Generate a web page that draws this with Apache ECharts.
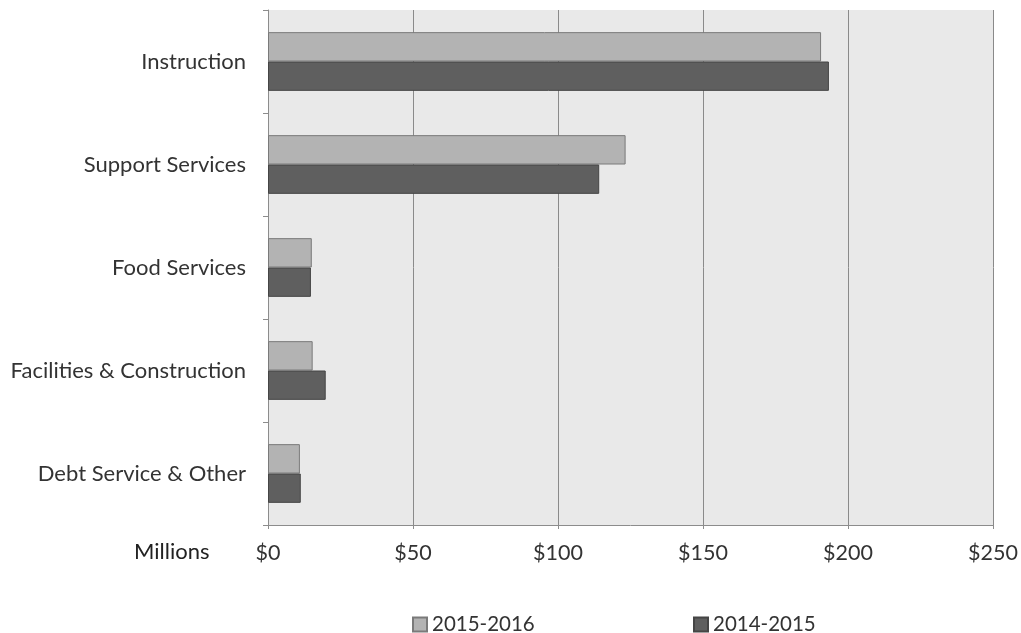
<!DOCTYPE html>
<html>
<head>
<meta charset="utf-8">
<script src="https://cdn.jsdelivr.net/npm/echarts@6/dist/echarts.min.js"></script>
<style>
  html, body { margin: 0; padding: 0; background: #fff; }
  #chart { width: 1021px; height: 633px; }
</style>
</head>
<body>
<div id="chart"></div>
<script>
// Spending categories (top to bottom) and amounts in millions of dollars
const categories = ['Instruction', 'Support Services', 'Food Services', 'Facilities & Construction', 'Debt Service & Other'];
const fy2016 = [190.7, 123.3, 15.1, 15.4, 11.0];
const fy2015 = [193.4, 114.2, 14.8, 19.9, 11.3];
const seriesNames = ['2015-2016', '2014-2015'];
const xTicks = { min: 0, max: 250, interval: 50 };

const FONT = 'Lato, "Open Sans", sans-serif';
const chart = echarts.init(document.getElementById('chart'), null, { renderer: 'canvas' });

chart.setOption({
  animation: false,
  backgroundColor: '#ffffff',
  grid: {
    left: 268, right: 27, top: 10, bottom: 108,
    show: true, backgroundColor: '#e9e9e9', borderWidth: 0
  },
  legend: [
    {
      data: [seriesNames[0]], left: 407, top: 609,
      itemWidth: 14, itemHeight: 14, icon: 'rect',
      textStyle: { fontFamily: FONT, fontSize: 20.5, color: '#333' }
    },
    {
      data: [seriesNames[1]], left: 688, top: 609,
      itemWidth: 14, itemHeight: 14, icon: 'rect',
      textStyle: { fontFamily: FONT, fontSize: 20.5, color: '#333' }
    }
  ],
  graphic: [{
    type: 'text', left: 134, top: 541,
    style: { text: 'Millions', fontFamily: FONT, fontSize: 22, fill: '#222' }
  }],
  xAxis: {
    type: 'value',
    min: xTicks.min, max: xTicks.max, interval: xTicks.interval,
    axisLine: { show: true, lineStyle: { color: '#8c8c8c', width: 1 } },
    axisTick: { show: true, length: 4, lineStyle: { color: '#8c8c8c' } },
    splitLine: { show: true, lineStyle: { color: '#8a8a8a', width: 1 } },
    axisLabel: {
      margin: 17, fontFamily: FONT, fontSize: 21.5, color: '#333',
      formatter: v => '$' + v
    }
  },
  yAxis: {
    type: 'category',
    data: categories,
    inverse: true,
    axisLine: { show: true, lineStyle: { color: '#8c8c8c', width: 1 } },
    axisTick: { show: true, length: 5, inside: false, lineStyle: { color: '#8c8c8c' } },
    axisLabel: { margin: 22, fontFamily: FONT, fontSize: 22, color: '#333' }
  },
  series: [
    {
      name: seriesNames[0], type: 'bar', data: fy2016,
      barGap: '0%', barCategoryGap: '43%',
      itemStyle: { color: '#b3b3b3', borderColor: '#7a7a7a', borderWidth: 1 }
    },
    {
      name: seriesNames[1], type: 'bar', data: fy2015,
      barGap: '0%', barCategoryGap: '43%',
      itemStyle: { color: '#5f5f5f', borderColor: '#454545', borderWidth: 1 }
    }
  ]
});
</script>
</body>
</html>
